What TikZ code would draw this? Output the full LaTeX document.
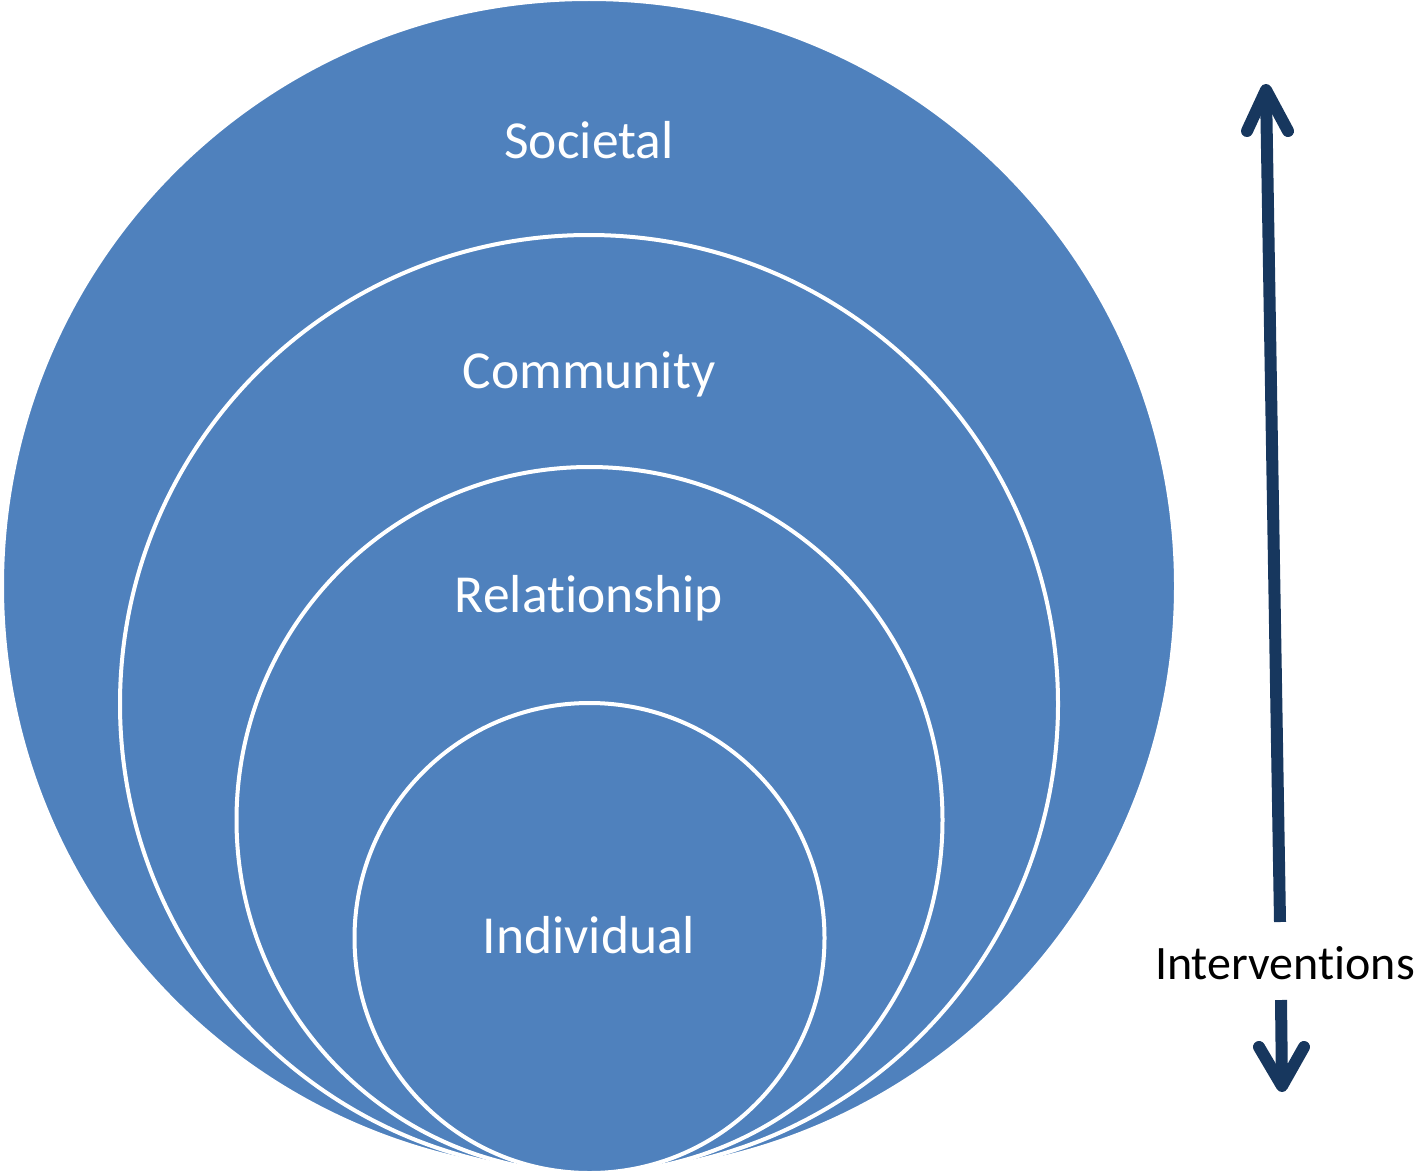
\documentclass[tikz,border=0pt]{standalone}
\usepackage{fontspec}
\setmainfont{Carlito}[Ligatures=NoCommon]
\usetikzlibrary{calc}
\definecolor{ringblue}{HTML}{4F81BD}
\definecolor{navy}{HTML}{17375E}
\begin{document}
\begin{tikzpicture}[x=1pt,y=-1pt,
 ring/.style={circle, fill=ringblue, draw=white, line width=4pt, inner sep=0pt, minimum size=#1},
 lbl/.style={text=white, font=\fontsize{53.5}{64}\selectfont, anchor=base, inner sep=0pt},
 sidelbl/.style={text=black, font=\fontsize{48}{58}\selectfont, anchor=base, inner sep=0pt},
 shaft/.style={draw=navy, line width=12pt},
 barb/.style={draw=navy, line width=12pt, line cap=round, line join=round}]
\useasboundingbox (0,0) rectangle (1416,1172);
\node[ring=1174pt] (societal) at (589,586) {};
\node[ring=938pt] (community) at (589,704) {};
\node[ring=706pt] (relationship) at (589.5,820) {};
\node[ring=470pt] (individual) at (589.5,938) {};
\node[lbl] (tsoc) at (589,158) {Societal};
\node[lbl] (tcom) at (589,388) {Community};
\node[lbl] (trel) at (589,612.5) {Relationship};
\node[lbl] (tind) at (589,953) {Individual};
\node[sidelbl] (interv) at (1285,979) {Interventions};
% upward arrow
\coordinate (upbot) at (1280,922);
\coordinate (uptop) at (1266,90);
\coordinate (upL) at (1247,131);
\coordinate (upR) at (1288,131);
\draw[shaft] (upbot) -- ($(upbot)!0.985!(uptop)$);
\draw[barb] (upL) -- (uptop) -- (upR);
% downward arrow
\coordinate (dntop) at (1281,1000);
\coordinate (dnbot) at (1282,1086);
\coordinate (dnL) at (1259,1047);
\coordinate (dnR) at (1304,1047);
\draw[shaft] (dntop) -- ($(dntop)!0.9!(dnbot)$);
\draw[barb] (dnL) -- (dnbot) -- (dnR);
\end{tikzpicture}
\end{document}
